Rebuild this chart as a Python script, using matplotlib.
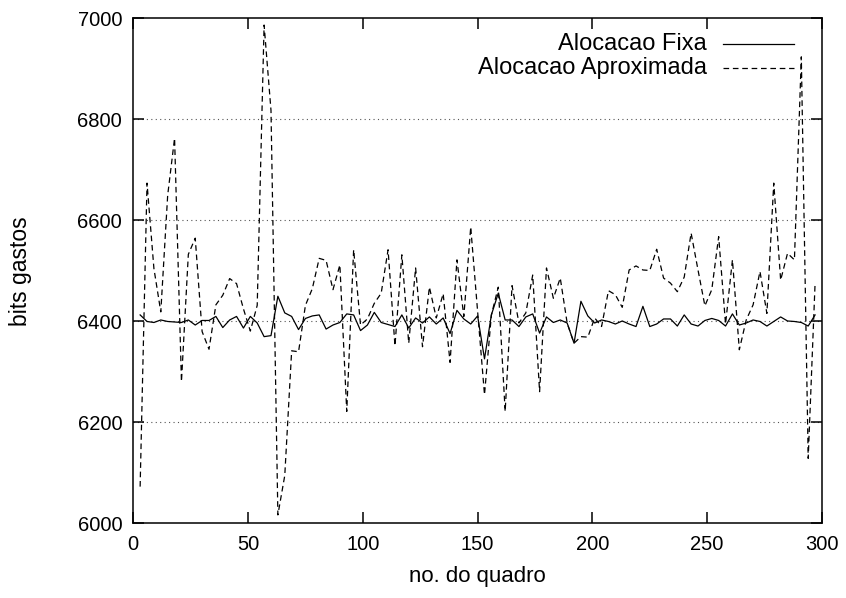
import numpy as np
import matplotlib
matplotlib.use("Agg")
import matplotlib.pyplot as plt

plt.rcParams['font.family'] = ['Liberation Sans', 'DejaVu Sans']

# frame numbers (one point every 3 frames)
quadros = list(range(3, 300, 3))

# bits spent, fixed allocation
fixa = [6413, 6400, 6398, 6403, 6400, 6399, 6398, 6403, 6393, 6402,
        6402, 6410, 6388, 6403, 6410, 6387, 6410, 6397, 6370, 6372,
        6450, 6417, 6410, 6384, 6406, 6411, 6413, 6385, 6393, 6398,
        6415, 6413, 6382, 6393, 6418, 6398, 6394, 6390, 6413, 6387,
        6407, 6397, 6409, 6395, 6407, 6376, 6422, 6405, 6395, 6411,
        6326, 6413, 6456, 6403, 6403, 6390, 6409, 6415, 6377, 6409,
        6398, 6403, 6397, 6357, 6440, 6411, 6397, 6403, 6400, 6395,
        6401, 6395, 6390, 6430, 6390, 6395, 6405, 6405, 6391, 6413,
        6395, 6391, 6402, 6406, 6402, 6391, 6415, 6393, 6397, 6403,
        6400, 6391, 6400, 6409, 6401, 6400, 6398, 6391, 6413]

# bits spent, approximate allocation
aprox = [6073, 6674, 6505, 6419, 6650, 6763, 6281, 6533, 6565, 6380,
         6345, 6433, 6452, 6485, 6475, 6425, 6381, 6432, 6987, 6818,
         6017, 6095, 6342, 6340, 6432, 6465, 6525, 6521, 6463, 6512,
         6222, 6542, 6393, 6405, 6436, 6456, 6542, 6352, 6532, 6357,
         6506, 6350, 6468, 6407, 6455, 6319, 6522, 6410, 6587, 6420,
         6255, 6413, 6468, 6222, 6471, 6397, 6417, 6492, 6261, 6506,
         6446, 6486, 6397, 6357, 6370, 6369, 6407, 6390, 6461, 6453,
         6428, 6502, 6510, 6502, 6501, 6543, 6486, 6476, 6459, 6488,
         6575, 6502, 6431, 6463, 6568, 6395, 6522, 6344, 6403, 6433,
         6499, 6416, 6674, 6482, 6535, 6522, 6924, 6129, 6476]

labels = ["Alocacao Fixa", "Alocacao Aproximada"]
xticks = [0, 50, 100, 150, 200, 250, 300]
yticks = [6000, 6200, 6400, 6600, 6800, 7000]

fs = 16.5

fig = plt.figure(figsize=(8.46, 5.98), dpi=100)
ax = fig.add_axes([0.1575, 0.1246, 0.8141, 0.8445])

ax.plot(quadros, fixa, color='black', lw=0.9, zorder=3)
ax.plot(quadros, aprox, color='black', lw=0.9, dashes=(4.5, 3), zorder=2)

ax.set_xlim(0, 300)
ax.set_ylim(6000, 7000)
ax.set_xticks(xticks)
ax.set_yticks(yticks)

# dotted horizontal grid only
for y in yticks[1:-1]:
    ax.axhline(y, color='#555555', lw=0.8, ls=(0, (1, 3)), zorder=1)

ax.tick_params(direction='in', length=8, width=1.1, labelsize=14.5,
               top=True, right=True, pad=8)
for s in ax.spines.values():
    s.set_linewidth(1.1)

ax.set_xlabel("no. do quadro", fontsize=16)
ax.set_ylabel("bits gastos", fontsize=fs)
ax.xaxis.set_label_coords(0.5, -0.085)
ax.yaxis.set_label_coords(-0.147, 0.5)

# gnuplot style key: right aligned text then sample line
ax.text(0.833, 0.9495, labels[0], transform=ax.transAxes, ha='right',
        va='center', fontsize=17)
ax.plot([0.856, 0.959], [0.9495, 0.9495], transform=ax.transAxes,
        color='black', lw=0.9)
ax.text(0.833, 0.902, labels[1], transform=ax.transAxes, ha='right',
        va='center', fontsize=17)
ax.plot([0.856, 0.959], [0.902, 0.902], transform=ax.transAxes,
        color='black', lw=0.9, dashes=(4.5, 3))

fig.savefig("out.png", dpi=100)
